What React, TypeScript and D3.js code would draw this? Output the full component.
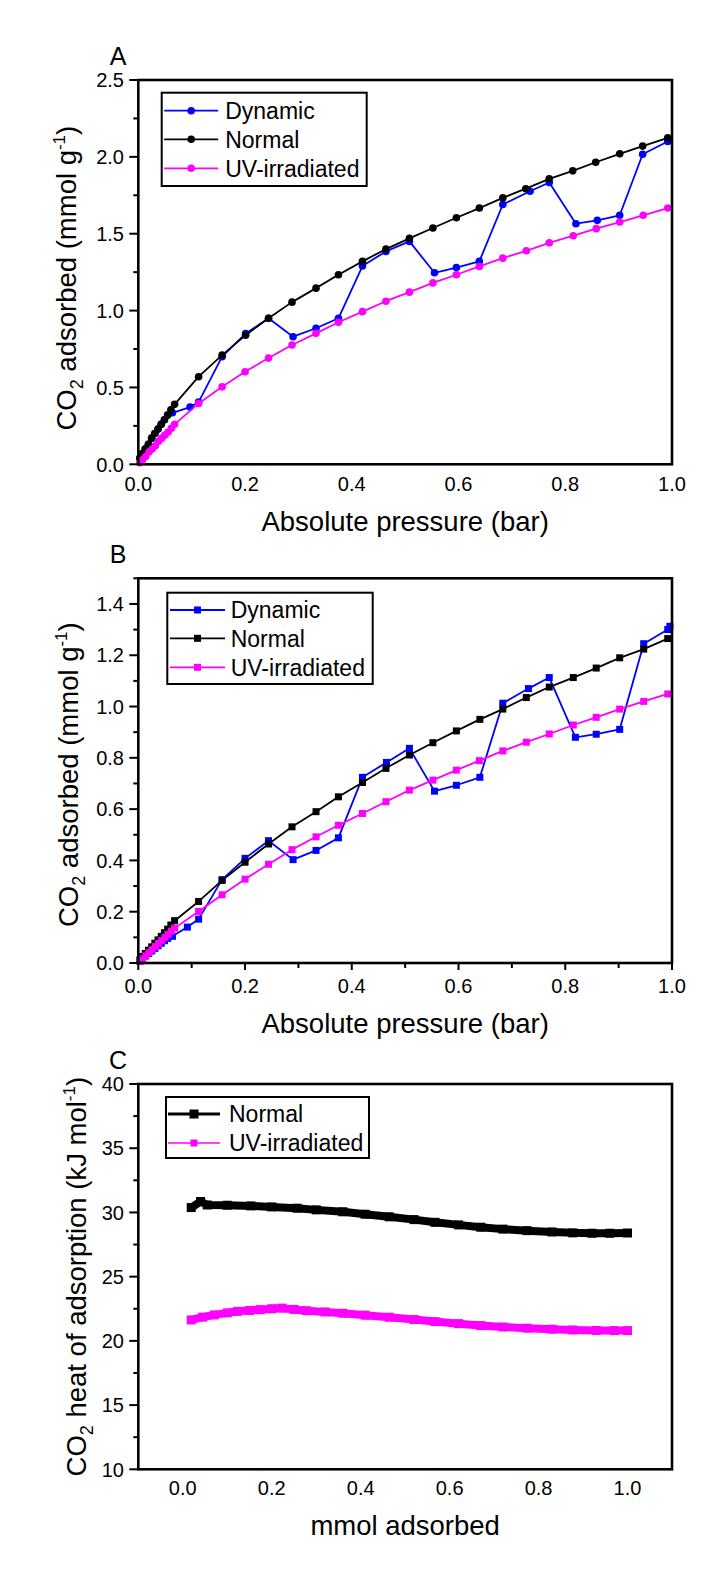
import React, { useRef, useEffect } from "react";
import * as d3 from "d3";

const W = 716;
const H = 1573;
const FONT = "'Liberation Sans', Arial, Helvetica, sans-serif";
const BLUE = "#0000ff";
const MAGENTA = "#ff00ff";

// ---- panel A : CO2 uptake, circles
const aDynP = [0.003, 0.008, 0.013, 0.019, 0.025, 0.031, 0.037, 0.043, 0.049, 0.055, 0.064, 0.097, 0.113, 0.157, 0.201, 0.244, 0.29, 0.333, 0.375, 0.42, 0.464, 0.508, 0.555, 0.596, 0.639, 0.683, 0.734, 0.77, 0.82, 0.86, 0.902, 0.945, 0.992];
const aDynQ = [0.04, 0.07, 0.1, 0.13, 0.17, 0.2, 0.23, 0.26, 0.29, 0.32, 0.335, 0.372, 0.405, 0.7, 0.85, 0.95, 0.83, 0.885, 0.95, 1.29, 1.385, 1.45, 1.246, 1.28, 1.32, 1.69, 1.776, 1.833, 1.565, 1.587, 1.62, 2.017, 2.1];
const aNorP = [0.003, 0.008, 0.013, 0.019, 0.025, 0.031, 0.037, 0.043, 0.049, 0.055, 0.061, 0.068, 0.113, 0.157, 0.201, 0.244, 0.288, 0.333, 0.375, 0.42, 0.464, 0.508, 0.552, 0.596, 0.639, 0.683, 0.726, 0.77, 0.814, 0.857, 0.902, 0.945, 0.992];
const aNorQ = [0.04, 0.07, 0.1, 0.13, 0.17, 0.2, 0.23, 0.26, 0.29, 0.32, 0.355, 0.39, 0.57, 0.71, 0.84, 0.95, 1.055, 1.146, 1.233, 1.32, 1.4, 1.47, 1.537, 1.604, 1.667, 1.733, 1.793, 1.857, 1.909, 1.965, 2.02, 2.07, 2.124];
const aUvP = [0.003, 0.008, 0.014, 0.02, 0.026, 0.032, 0.038, 0.044, 0.05, 0.056, 0.062, 0.068, 0.113, 0.157, 0.2, 0.244, 0.288, 0.333, 0.375, 0.42, 0.464, 0.508, 0.552, 0.596, 0.639, 0.683, 0.727, 0.77, 0.815, 0.858, 0.902, 0.946, 0.992];
const aUvQ = [0.01, 0.03, 0.05, 0.08, 0.1, 0.12, 0.15, 0.17, 0.19, 0.21, 0.235, 0.26, 0.396, 0.504, 0.602, 0.691, 0.776, 0.852, 0.924, 0.993, 1.061, 1.12, 1.18, 1.233, 1.287, 1.341, 1.389, 1.441, 1.487, 1.533, 1.576, 1.62, 1.667];

// ---- panel B : squares
const bDynP = [0.003, 0.008, 0.013, 0.019, 0.025, 0.031, 0.037, 0.043, 0.049, 0.055, 0.064, 0.092, 0.113, 0.157, 0.2, 0.244, 0.29, 0.333, 0.375, 0.42, 0.465, 0.508, 0.555, 0.596, 0.64, 0.683, 0.731, 0.77, 0.819, 0.858, 0.902, 0.947, 0.992, 0.996];
const bDynQ = [0.008, 0.018, 0.027, 0.037, 0.047, 0.057, 0.067, 0.077, 0.087, 0.096, 0.104, 0.14, 0.171, 0.325, 0.408, 0.477, 0.403, 0.439, 0.488, 0.724, 0.782, 0.837, 0.67, 0.693, 0.724, 1.013, 1.07, 1.113, 0.88, 0.892, 0.911, 1.245, 1.3, 1.313];
const bNorP = [0.003, 0.008, 0.013, 0.019, 0.025, 0.031, 0.037, 0.043, 0.049, 0.055, 0.061, 0.068, 0.113, 0.157, 0.2, 0.244, 0.288, 0.333, 0.375, 0.42, 0.464, 0.508, 0.552, 0.596, 0.64, 0.683, 0.727, 0.77, 0.815, 0.858, 0.902, 0.947, 0.992];
const bNorQ = [0.012, 0.025, 0.037, 0.05, 0.063, 0.077, 0.09, 0.104, 0.118, 0.132, 0.148, 0.165, 0.24, 0.322, 0.393, 0.464, 0.531, 0.59, 0.648, 0.704, 0.759, 0.811, 0.859, 0.905, 0.95, 0.99, 1.035, 1.076, 1.113, 1.15, 1.19, 1.224, 1.265];
const bUvP = [0.003, 0.008, 0.014, 0.02, 0.026, 0.032, 0.038, 0.044, 0.05, 0.056, 0.062, 0.068, 0.113, 0.157, 0.2, 0.244, 0.288, 0.333, 0.375, 0.42, 0.464, 0.508, 0.552, 0.596, 0.639, 0.683, 0.727, 0.77, 0.815, 0.858, 0.902, 0.947, 0.992];
const bUvQ = [0.006, 0.016, 0.028, 0.04, 0.052, 0.064, 0.076, 0.088, 0.1, 0.112, 0.124, 0.136, 0.201, 0.266, 0.327, 0.385, 0.442, 0.492, 0.537, 0.583, 0.629, 0.674, 0.713, 0.752, 0.789, 0.827, 0.861, 0.893, 0.928, 0.958, 0.99, 1.02, 1.049];

// ---- panel C : heat of adsorption
const cNorN = [0.019, 0.04, 0.055, 0.1, 0.153, 0.2, 0.257, 0.3, 0.36, 0.41, 0.464, 0.52, 0.567, 0.62, 0.67, 0.72, 0.774, 0.83, 0.877, 0.92, 0.96, 1.0];
const cNorH = [30.38, 30.85, 30.58, 30.56, 30.51, 30.43, 30.33, 30.2, 30.05, 29.86, 29.66, 29.44, 29.23, 29.03, 28.85, 28.7, 28.58, 28.48, 28.41, 28.38, 28.38, 28.4];
const cUvN = [0.019, 0.045, 0.071, 0.1, 0.123, 0.15, 0.174, 0.2, 0.223, 0.25, 0.278, 0.32, 0.36, 0.41, 0.464, 0.52, 0.567, 0.62, 0.67, 0.72, 0.774, 0.83, 0.877, 0.93, 0.97, 1.0];
const cUvH = [21.63, 21.85, 22.02, 22.18, 22.3, 22.37, 22.43, 22.5, 22.55, 22.45, 22.35, 22.25, 22.15, 22.0, 21.84, 21.66, 21.5, 21.34, 21.19, 21.08, 20.99, 20.91, 20.85, 20.81, 20.8, 20.8];

// tick labels
const pressTicks = [0, 0.2, 0.4, 0.6, 0.8, 1.0];
const aYTicks = [0, 0.5, 1.0, 1.5, 2.0, 2.5];
const bYTicks = [0, 0.2, 0.4, 0.6, 0.8, 1.0, 1.2, 1.4];
const cXTicks = [0, 0.2, 0.4, 0.6, 0.8, 1.0];
const cYTicks = [10, 15, 20, 25, 30, 35, 40];

const LEFT = 138.3;
const RIGHT = 672;

const panels = [
    {
        label: "A", top: 80, bottom: 464.3,
        xDomain: [0, 1], yDomain: [0, 2.5],
        xTicks: pressTicks, yTicks: aYTicks, yMinorStep: 0.25, xMinorStep: 0, xTickOut: false,
        xFmt: d3.format(".1f"), yFmt: d3.format(".1f"),
        xLabelDy: 27, xTitleDy: 67, xTitle: "Absolute pressure (bar)",
        yTitle: ["CO", "2", " adsorbed (mmol g", "-1", ")"], yTitleX: 76, yTitleShift: 6,
        marker: "circle", lineW: 1.8, mSize: 3.8,
        legend: { x: 161.7, y: 92.7, w: 205, h: 93.3, rowY: [18, 46.6, 75.6], lx0: 2.5, lx1: 56.5, tx: 63.5 },
        series: [
            { name: "Dynamic", color: BLUE, xs: aDynP, ys: aDynQ },
            { name: "Normal", color: "#000", xs: aNorP, ys: aNorQ },
            { name: "UV-irradiated", color: MAGENTA, xs: aUvP, ys: aUvQ },
        ],
    },
    {
        label: "B", top: 578.3, bottom: 963,
        xDomain: [0, 1], yDomain: [0, 1.5],
        xTicks: pressTicks, yTicks: bYTicks, yMinorStep: 0.1, xMinorStep: 0.1, xTickOut: true,
        xFmt: d3.format(".1f"), yFmt: d3.format(".1f"),
        xLabelDy: 30, xTitleDy: 70, xTitle: "Absolute pressure (bar)",
        yTitle: ["CO", "2", " adsorbed (mmol g", "-1", ")"], yTitleX: 78, yTitleShift: 4,
        marker: "square", lineW: 1.8, mSize: 7,
        legend: { x: 167.3, y: 592.7, w: 205.4, h: 91.3, rowY: [17.3, 45.6, 74.6], lx0: 2.7, lx1: 57.7, tx: 63.4 },
        series: [
            { name: "Dynamic", color: BLUE, xs: bDynP, ys: bDynQ },
            { name: "Normal", color: "#000", xs: bNorP, ys: bNorQ },
            { name: "UV-irradiated", color: MAGENTA, xs: bUvP, ys: bUvQ },
        ],
    },
    {
        label: "C", top: 1084, bottom: 1469.3,
        xDomain: [-0.1, 1.1], yDomain: [10, 40],
        xTicks: cXTicks, yTicks: cYTicks, yMinorStep: 2.5, xMinorStep: 0, xTickOut: false,
        xFmt: d3.format(".1f"), yFmt: d3.format("d"),
        xLabelDy: 26, xTitleDy: 66, xTitle: "mmol adsorbed",
        yTitle: ["CO", "2", " heat of adsorption (kJ mol", "-1", ")"], yTitleX: 86, yTitleShift: 0,
        marker: "square", lineW: 8, mSize: 9,
        legend: { x: 166, y: 1097, w: 203, h: 61, rowY: [17, 46], lx0: 2, lx1: 54, tx: 63 },
        legendLineW: [3, 1.5], legendMSize: [9, 7],
        series: [
            { name: "Normal", color: "#000", xs: cNorN, ys: cNorH },
            { name: "UV-irradiated", color: MAGENTA, xs: cUvN, ys: cUvH },
        ],
    },
];

const drawMarker = (g, kind, cx, cy, size, color) => {
    if (kind === "circle") {
        g.append("circle").attr("cx", cx).attr("cy", cy).attr("r", size).attr("fill", color);
    } else {
        g.append("rect")
            .attr("x", cx - size / 2)
            .attr("y", cy - size / 2)
            .attr("width", size)
            .attr("height", size)
            .attr("fill", color);
    }
};

const drawPanel = (svg, p) => {
    const x = d3.scaleLinear().domain(p.xDomain).range([LEFT, RIGHT]);
    const y = d3.scaleLinear().domain(p.yDomain).range([p.bottom, p.top]);
    const g = svg.append("g").attr("font-family", FONT);

    const line = d3
        .line<[number, number]>()
        .x((d) => x(d[0]))
        .y((d) => y(d[1]));

    // data
    p.series.forEach((s) => {
        const pts = s.xs.map((v, i) => [v, s.ys[i]] as [number, number]);
        g.append("path")
            .datum(pts)
            .attr("fill", "none")
            .attr("stroke", s.color)
            .attr("stroke-width", p.lineW)
            .attr("stroke-linejoin", "round")
            .attr("d", line);
        pts.forEach((d) => drawMarker(g, p.marker, x(d[0]), y(d[1]), p.mSize, s.color));
    });

    // frame
    g.append("rect")
        .attr("x", LEFT)
        .attr("y", p.top)
        .attr("width", RIGHT - LEFT)
        .attr("height", p.bottom - p.top)
        .attr("fill", "none")
        .attr("stroke", "#000")
        .attr("stroke-width", 2.6);

    // left ticks
    const [y0, y1] = p.yDomain;
    d3.range(y0, y1 + 1e-9, p.yMinorStep).forEach((v) => {
        const major = p.yTicks.some((t) => Math.abs(t - v) < 1e-6);
        g.append("line")
            .attr("x1", LEFT - (major ? 9 : 5))
            .attr("x2", LEFT)
            .attr("y1", y(v))
            .attr("y2", y(v))
            .attr("stroke", "#000")
            .attr("stroke-width", 2);
    });
    p.yTicks.forEach((t) => {
        g.append("text")
            .attr("x", 124)
            .attr("y", y(t))
            .attr("dy", "0.36em")
            .attr("text-anchor", "end")
            .attr("font-size", 20)
            .text(p.yFmt(t));
    });

    // bottom ticks (only panel B has them)
    if (p.xTickOut) {
        d3.range(p.xDomain[0], p.xDomain[1] + 1e-9, p.xMinorStep).forEach((v) => {
            const major = p.xTicks.some((t) => Math.abs(t - v) < 1e-6);
            g.append("line")
                .attr("x1", x(v))
                .attr("x2", x(v))
                .attr("y1", p.bottom)
                .attr("y2", p.bottom + (major ? 7 : 5))
                .attr("stroke", "#000")
                .attr("stroke-width", 2);
        });
    }
    p.xTicks.forEach((t) => {
        g.append("text")
            .attr("x", x(t))
            .attr("y", p.bottom + p.xLabelDy)
            .attr("text-anchor", "middle")
            .attr("font-size", 20)
            .text(p.xFmt(t));
    });

    // axis titles
    g.append("text")
        .attr("x", (LEFT + RIGHT) / 2)
        .attr("y", p.bottom + p.xTitleDy)
        .attr("text-anchor", "middle")
        .attr("font-size", 27.5)
        .text(p.xTitle);

    const yt = g
        .append("text")
        .attr("transform", `translate(${p.yTitleX},${(p.top + p.bottom) / 2 + p.yTitleShift}) rotate(-90)`)
        .attr("text-anchor", "middle")
        .attr("font-size", 27.5);
    yt.append("tspan").text(p.yTitle[0]);
    yt.append("tspan").attr("dy", 7).attr("font-size", 18).text(p.yTitle[1]);
    yt.append("tspan").attr("dy", -7).text(p.yTitle[2]);
    yt.append("tspan").attr("dy", -11).attr("font-size", 17).text(p.yTitle[3]);
    yt.append("tspan").attr("dy", 11).text(p.yTitle[4]);

    // panel letter
    g.append("text")
        .attr("x", 118)
        .attr("y", p.top - 15)
        .attr("text-anchor", "middle")
        .attr("font-size", 25)
        .text(p.label);

    // legend
    const L = p.legend;
    const lg = g.append("g").attr("transform", `translate(${L.x},${L.y})`);
    lg.append("rect")
        .attr("width", L.w)
        .attr("height", L.h)
        .attr("fill", "#fff")
        .attr("stroke", "#000")
        .attr("stroke-width", 2);
    p.series.forEach((s, i) => {
        const ry = L.rowY[i];
        const lw = p.legendLineW ? p.legendLineW[i] : p.lineW;
        const ms = p.legendMSize ? p.legendMSize[i] : p.mSize;
        lg.append("line")
            .attr("x1", L.lx0)
            .attr("x2", L.lx1)
            .attr("y1", ry)
            .attr("y2", ry)
            .attr("stroke", s.color)
            .attr("stroke-width", lw);
        drawMarker(lg, p.marker, (L.lx0 + L.lx1) / 2, ry, ms, s.color);
        lg.append("text")
            .attr("x", L.tx)
            .attr("y", ry)
            .attr("dy", "0.36em")
            .attr("font-size", 23)
            .text(s.name);
    });
};

const App = () => {
    const canvas = useRef(null);

    useEffect(() => {
        const svg = d3.select(canvas.current);
        svg.selectAll("*").remove();
        svg.append("rect").attr("width", W).attr("height", H).attr("fill", "#fff");
        panels.forEach((p) => drawPanel(svg, p));
    }, []);

    return (
        <svg
            ref={canvas}
            width={W}
            height={H}
            style={{ position: "absolute", left: 0, top: 0, display: "block" }}
        />
    );
};

export default App;
